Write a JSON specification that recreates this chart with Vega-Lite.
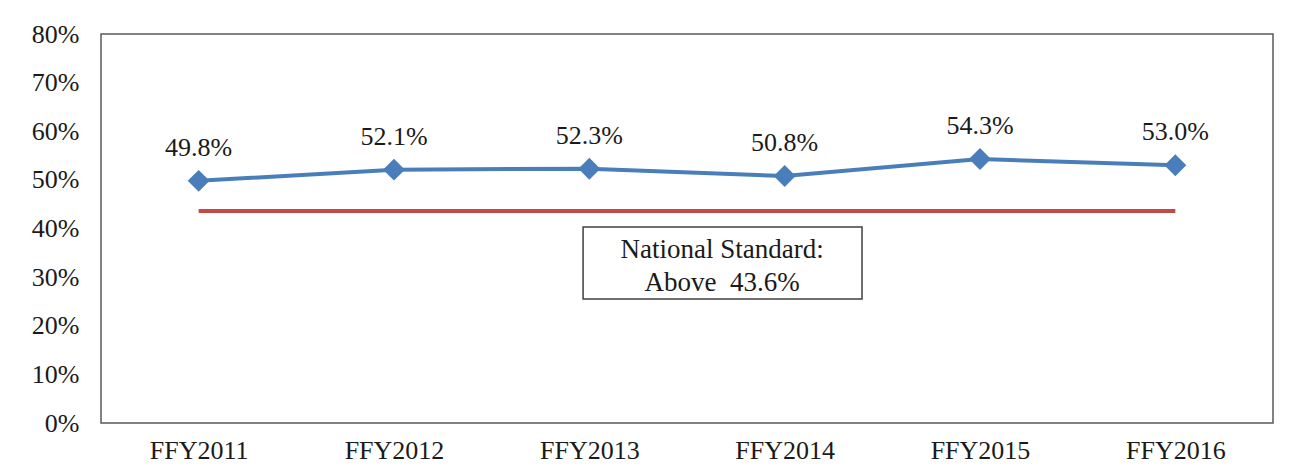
{
  "$schema": "https://vega.github.io/schema/vega-lite/v6.json",
  "autosize": "none",
  "width": 1172,
  "height": 389,
  "padding": {"left": 101, "top": 34, "right": 36, "bottom": 53},
  "background": "white",
  "config": {
    "view": {"stroke": "#5a5a5a", "strokeWidth": 1.5},
    "font": "Liberation Serif",
    "axis": {"labelFont": "Liberation Serif", "labelFontSize": 26, "labelColor": "#1a1a1a", "grid": false, "ticks": false, "domain": false}
  },
  "datasets": {
    "series": [
      {"year": "FFY2011", "value": 49.8, "label": "49.8%"},
      {"year": "FFY2012", "value": 52.1, "label": "52.1%"},
      {"year": "FFY2013", "value": 52.3, "label": "52.3%"},
      {"year": "FFY2014", "value": 50.8, "label": "50.8%"},
      {"year": "FFY2015", "value": 54.3, "label": "54.3%"},
      {"year": "FFY2016", "value": 53.0, "label": "53.0%"}
    ],
    "standard": [
      {"start": "FFY2011", "end": "FFY2016", "value": 43.6}
    ],
    "box": [
      {"x0": 2.468, "x1": 3.896, "y0": 25.5, "y1": 40.3}
    ],
    "boxtext": [
      {"x": 3.18, "y": 35.5, "text": "National Standard:"},
      {"x": 3.18, "y": 28.7, "text": "Above\u00a0\u00a043.6%"}
    ]
  },
  "layer": [
    {
      "layer": [
        {
          "data": {"name": "standard"},
          "mark": {"type": "rule", "color": "#be4b48", "strokeWidth": 4},
          "encoding": {
            "x": {"field": "start", "type": "ordinal", "scale": {"type": "point", "padding": 0.5, "domain": ["FFY2011","FFY2012","FFY2013","FFY2014","FFY2015","FFY2016"]}, "axis": {"title": null, "labelAngle": 0, "labelPadding": 14}},
            "x2": {"field": "end"},
            "y": {"field": "value", "type": "quantitative", "scale": {"domain": [0, 80], "nice": false}, "axis": {"title": null, "values": [0,10,20,30,40,50,60,70,80], "labelExpr": "datum.value + '%'", "labelPadding": 22}}
          }
        },
        {
          "data": {"name": "series"},
          "mark": {"type": "line", "color": "#4a7ebb", "strokeWidth": 4},
          "encoding": {
            "x": {"field": "year", "type": "ordinal"},
            "y": {"field": "value", "type": "quantitative"}
          }
        },
        {
          "data": {"name": "series"},
          "mark": {"type": "point", "shape": "diamond", "filled": true, "color": "#4a7ebb", "size": 480, "opacity": 1},
          "encoding": {
            "x": {"field": "year", "type": "ordinal"},
            "y": {"field": "value", "type": "quantitative"}
          }
        },
        {
          "data": {"name": "series"},
          "mark": {"type": "text", "fontSize": 26, "font": "Liberation Serif", "color": "#1a1a1a", "dy": -33, "baseline": "middle"},
          "encoding": {
            "x": {"field": "year", "type": "ordinal"},
            "y": {"field": "value", "type": "quantitative"},
            "text": {"field": "label"}
          }
        }
      ]
    },
    {
      "layer": [
        {
          "data": {"name": "box"},
          "mark": {"type": "rect", "fill": "white", "stroke": "#404040", "strokeWidth": 1.5},
          "encoding": {
            "x": {"field": "x0", "type": "quantitative", "scale": {"domain": [0, 6], "nice": false, "zero": false}, "axis": null},
            "x2": {"field": "x1"},
            "y": {"field": "y0", "type": "quantitative"},
            "y2": {"field": "y1"}
          }
        },
        {
          "data": {"name": "boxtext"},
          "mark": {"type": "text", "fontSize": 27, "font": "Liberation Serif", "color": "#1a1a1a", "baseline": "middle", "align": "center"},
          "encoding": {
            "x": {"field": "x", "type": "quantitative", "axis": null},
            "y": {"field": "y", "type": "quantitative"},
            "text": {"field": "text"}
          }
        }
      ]
    }
  ],
  "resolve": {"scale": {"x": "independent"}}
}
